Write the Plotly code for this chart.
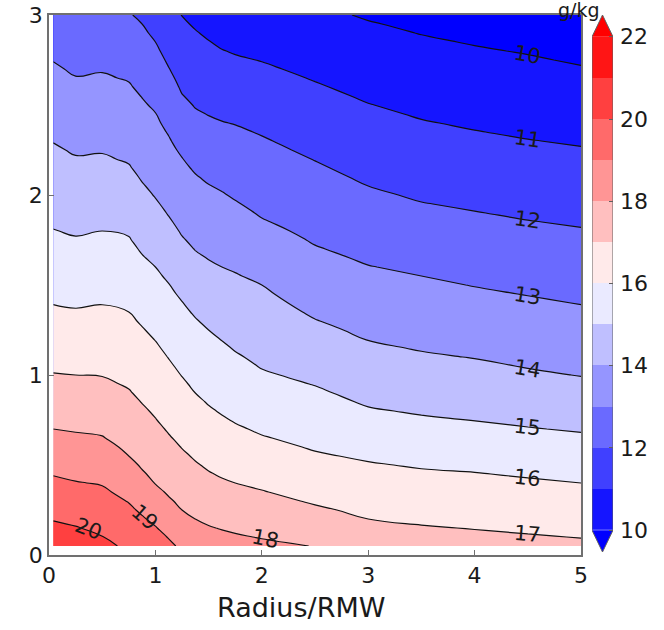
import math
import numpy as np
import plotly.graph_objects as go

# ---- data -----------------------------------------------------------------
# radial columns (Radius/RMW) at which isoline heights (km) are tabulated
radius = [0.04, 0.25, 0.5, 0.75, 0.875, 1.0, 1.125, 1.25, 1.375, 1.5, 1.625, 1.75,
          2.0, 2.5, 3.0, 3.5, 4.0, 4.5, 5.0]

# height (km) of each specific-humidity isoline; None = outside 0.05-3 km
iso_10 = [None, None, None, None, None, None, None, None, None, None, None, None,
          None, None, 2.97, 2.89, 2.83, 2.78, 2.72]
iso_11 = [None, None, None, None, None, None, None, None, 2.92, 2.86, 2.81, 2.78,
          2.74, 2.63, 2.51, 2.42, 2.36, 2.31, 2.27]
iso_12 = [None, None, None, None, 2.95, 2.85, 2.71, 2.56, 2.48, 2.44, 2.41, 2.39,
          2.33, 2.19, 2.05, 1.96, 1.91, 1.86, 1.82]
iso_13 = [2.74, 2.66, 2.68, 2.63, 2.54, 2.46, 2.33, 2.21, 2.12, 2.06, 2.02, 1.97,
          1.87, 1.72, 1.61, 1.55, 1.49, 1.44, 1.39]
iso_14 = [2.29, 2.22, 2.23, 2.17, 2.07, 1.98, 1.88, 1.77, 1.69, 1.64, 1.60, 1.57,
          1.50, 1.31, 1.19, 1.13, 1.09, 1.035, 0.99]
iso_15 = [1.81, 1.77, 1.80, 1.77, 1.67, 1.60, 1.51, 1.41, 1.32, 1.25, 1.19, 1.13,
          1.03, 0.94, 0.82, 0.775, 0.745, 0.71, 0.68]
iso_16 = [1.39, 1.37, 1.39, 1.35, 1.27, 1.19, 1.09, 0.99, 0.90, 0.83, 0.775, 0.73,
          0.665, 0.575, 0.52, 0.48, 0.46, 0.43, 0.40]
iso_17 = [1.01, 1.00, 0.99, 0.92, 0.84, 0.76, 0.67, 0.59, 0.52, 0.465, 0.425, 0.40,
          0.36, 0.275, 0.20, 0.167, 0.142, 0.118, 0.094]
iso_18 = [0.70, 0.68, 0.66, 0.55, 0.47, 0.39, 0.32, 0.25, 0.20, 0.165, 0.14, 0.12,
          0.09, None, None, None, None, None, None]
iso_19 = [0.44, 0.41, 0.385, 0.29, 0.22, 0.16, 0.09, None, None, None, None, None,
          None, None, None, None, None, None, None]
iso_20 = [0.19, 0.16, 0.105, None, None, None, None, None, None, None, None, None,
          None, None, None, None, None, None, None]

# humidity (g/kg) at the lowest (0.05 km) and highest (3 km) levels of each column
q_bottom = [20.56, 20.44, 20.2, 19.85, 19.7, 19.5, 19.17, 18.85, 18.55, 18.35, 18.3, 18.25,
            18.15, 17.98, 17.6, 17.35, 17.28, 17.2, 17.14]
q_top = [12.42, 12.23, 12.29, 12.05, 11.88, 11.6, 11.26, 10.98, 10.8, 10.64, 10.5, 10.44,
         10.37, 10.16, 9.93, 9.77, 9.64, 9.53, 9.38]

h_bottom, h_top = 0.05, 3.0

iso_levels = [10, 11, 12, 13, 14, 15, 16, 17, 18, 19, 20]
iso_heights = [iso_10, iso_11, iso_12, iso_13, iso_14, iso_15, iso_16, iso_17, iso_18, iso_19, iso_20]

cbar_levels = list(range(10, 23))          # contour / colour-bar levels
cbar_ticks = [10, 12, 14, 16, 18, 20, 22]
x_ticks = [0, 1, 2, 3, 4, 5]
y_ticks = [0, 1, 2, 3]

# blue-white-red palette: below 10, ten-to-twenty-two bands, above 22
band_colors = [
    "rgb(0,0,255)",
    "rgb(21,21,255)", "rgb(64,64,255)", "rgb(106,106,255)", "rgb(149,149,255)",
    "rgb(191,191,255)", "rgb(234,234,255)", "rgb(255,234,234)", "rgb(255,191,191)",
    "rgb(255,149,149)", "rgb(255,106,106)", "rgb(255,64,64)", "rgb(255,21,21)",
    "rgb(255,0,0)",
]

# ---- build the (height x radius) field from the isoline table -------------
h_grid = np.linspace(h_bottom, h_top, 60)
field = np.zeros((len(h_grid), len(radius)))
for j in range(len(radius)):
    hs = [h_bottom]
    qs = [q_bottom[j]]
    pairs = sorted((heights[j], lev) for lev, heights in zip(iso_levels, iso_heights)
                   if heights[j] is not None)
    for h, lev in pairs:
        hs.append(h)
        qs.append(lev)
    hs.append(h_top)
    qs.append(q_top[j])
    field[:, j] = np.interp(h_grid, hs, qs)

# stepped colour scale: one flat colour per band
n_col = len(band_colors)
step = 1.0 / (n_col - 1)
colorscale = []
for k, c in enumerate(band_colors):
    lo_s = max(0.0, (k - 0.5) * step)
    hi_s = min(1.0, (k + 0.5) * step)
    colorscale.append([lo_s, c])
    colorscale.append([hi_s, c])

# ---- geometry --------------------------------------------------------------
W, H = 664, 630
px_left, px_right, px_top, px_bot = 49, 581, 15, 555
cb_left, cb_right, cb_top, cb_bot = 592, 613, 15, 552
ext = 0.53   # length of the colour-bar end triangles, in g/kg

font = "DejaVu Sans, Verdana, sans-serif"
frame = "#707070"
ink = "#1a1a1a"

fig = go.Figure()

fig.add_trace(go.Contour(
    x=radius, y=h_grid, z=field,
    contours=dict(start=cbar_levels[0], end=cbar_levels[-1], size=1,
                  coloring="fill", showlabels=False),
    colorscale=colorscale,
    line=dict(color="#111111", width=1.2, smoothing=1.3),
    showscale=False, hoverinfo="skip",
    xaxis="x", yaxis="y",
))

# colour bar: bands, end triangles and outline on a second axis pair
band_mid = [[l + 0.5] for l in cbar_levels[:-1]]
fig.add_trace(go.Heatmap(
    x=[0, 1], y=cbar_levels, z=band_mid,
    colorscale=colorscale, zmin=cbar_levels[0] - 0.5, zmax=cbar_levels[-1] + 0.5,
    showscale=False, hoverinfo="skip", xaxis="x2", yaxis="y2",
))
lo, hi = cbar_levels[0], cbar_levels[-1]
fig.add_trace(go.Scatter(
    x=[0, 1, 0.5, 0], y=[hi, hi, hi + ext, hi], fill="toself",
    fillcolor=band_colors[-1], line=dict(width=0), mode="lines",
    hoverinfo="skip", xaxis="x2", yaxis="y2",
))
fig.add_trace(go.Scatter(
    x=[0, 1, 0.5, 0], y=[lo, lo, lo - ext, lo], fill="toself",
    fillcolor=band_colors[0], line=dict(width=0), mode="lines",
    hoverinfo="skip", xaxis="x2", yaxis="y2",
))
fig.add_trace(go.Scatter(
    x=[0, 0.5, 1, 1, 0.5, 0, 0], y=[lo, lo - ext, lo, hi, hi + ext, hi, lo],
    mode="lines", line=dict(color="#606060", width=1),
    hoverinfo="skip", xaxis="x2", yaxis="y2",
))

# inline isoline labels, rotated along the line
px_per_r = (px_right - px_left) / 5.0
px_per_h = (px_bot - px_top) / 3.0


def label(level, r0, r1, r_at, dx=0, dy=0):
    heights = iso_heights[iso_levels.index(level)]
    i0, i1, at = radius.index(r0), radius.index(r1), radius.index(r_at)
    ang = math.degrees(math.atan2((heights[i0] - heights[i1]) * px_per_h,
                                  (radius[i1] - radius[i0]) * px_per_r))
    fig.add_annotation(x=radius[at], y=heights[at], text=str(level),
                       showarrow=False, textangle=ang, xshift=dx, yshift=dy,
                       font=dict(family=font, size=21, color=ink),
                       xref="x", yref="y")


for lev in [10, 11, 12, 13, 14, 15, 16, 17]:
    label(lev, 4.0, 5.0, 4.5)
label(18, 1.75, 2.0, 2.0, dx=4)
label(19, 0.75, 1.0, 0.875, dx=2, dy=-2)
label(20, 0.25, 0.5, 0.25, dx=13, dy=-3)

# colour-bar unit, sitting just above the bar
fig.add_annotation(x=602 / W, y=1 - 10 / H, xref="paper", yref="paper",
                   text="g/kg", showarrow=False, yanchor="middle",
                   font=dict(family=font, size=19, color=ink))

# horizontal axis title
fig.add_annotation(x=301 / W, y=1 - 607 / H, xref="paper", yref="paper",
                   text="Radius/RMW", showarrow=False, yanchor="middle",
                   font=dict(family=font, size=27, color=ink))

axis_common = dict(showgrid=False, zeroline=False, showline=True, mirror=True,
                   linecolor=frame, linewidth=1.5, ticks="inside", ticklen=5,
                   tickcolor=frame, automargin=False,
                   tickfont=dict(family=font, size=22, color=ink))

fig.update_layout(
    width=W, height=H,
    margin=dict(l=0, r=0, t=0, b=0, autoexpand=False),
    paper_bgcolor="white", plot_bgcolor="white",
    showlegend=False,
    xaxis=dict(domain=[px_left / W, px_right / W], range=[0, 5], tickvals=x_ticks,
               anchor="y", **axis_common),
    yaxis=dict(domain=[1 - px_bot / H, 1 - px_top / H], range=[0, 3], tickvals=y_ticks,
               anchor="x", **axis_common),
    xaxis2=dict(domain=[cb_left / W, cb_right / W], range=[0, 1], visible=False,
                anchor="y2", fixedrange=True, automargin=False),
    yaxis2=dict(domain=[1 - cb_bot / H, 1 - cb_top / H], range=[lo - ext, hi + ext],
                side="right", anchor="x2", tickvals=cbar_ticks, showgrid=False,
                zeroline=False, showline=False, ticks="inside", ticklen=4,
                tickcolor="#606060", automargin=False, ticklabelstandoff=6,
                tickfont=dict(family=font, size=22, color=ink)),
)

fig.write_html("out.html")
